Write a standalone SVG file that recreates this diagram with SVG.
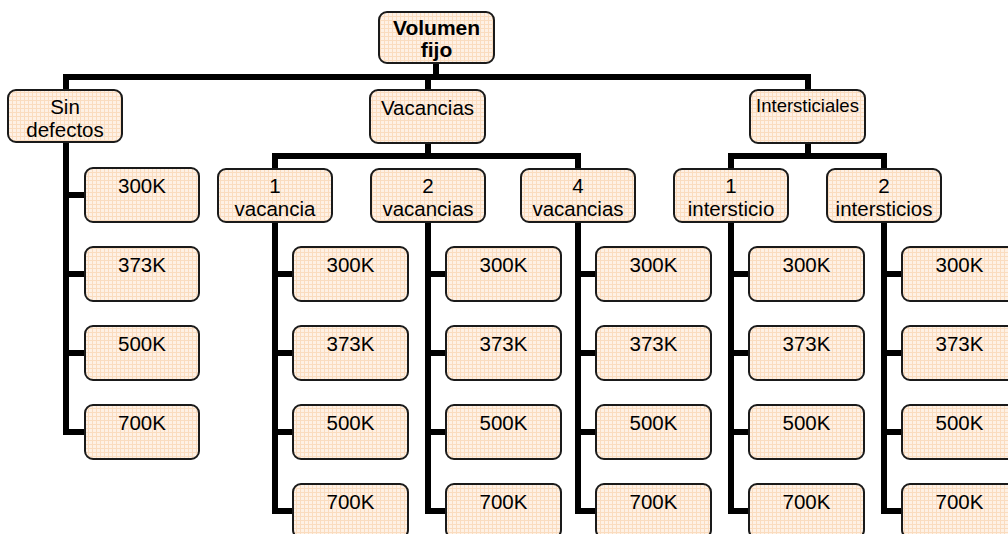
<svg xmlns="http://www.w3.org/2000/svg" width="1008" height="534" viewBox="0 0 1008 534">
<defs>
<pattern id="grid" width="4" height="4" patternUnits="userSpaceOnUse">
<rect width="4" height="4" fill="#FEF1E5"/>
<path d="M0,0.5 H4 M0.5,0 V4" stroke="#FADCBF" stroke-width="1"/>
</pattern>
</defs>
<style>
.box{fill:url(#grid);stroke:#1a1a1a;stroke-width:2}
.t{font-family:"Liberation Sans",Arial,sans-serif;font-size:20.5px;fill:#000;text-anchor:middle}
.b{font-weight:bold;font-size:21px}
.s{font-size:18.5px}
.c{fill:none;stroke:#000;stroke-width:6;stroke-linejoin:miter}
</style>
<g id="connectors">
<path class="c" d="M436,63 V77"/>
<path class="c" d="M66,90 V77 H808 V90"/>
<path class="c" d="M428,77 V90"/>
<path class="c" d="M428,143 V156"/>
<path class="c" d="M275,169 V156 H578 V169"/>
<path class="c" d="M808,143 V156"/>
<path class="c" d="M731,169 V156 H884 V169"/>
<path class="c" d="M66,142 V432 H85 M66,195 H85 M66,274 H85 M66,353 H85"/>
<path class="c" d="M275,222 V511 H293 M275,274 H293 M275,353 H293 M275,432 H293"/>
<path class="c" d="M428,222 V511 H446 M428,274 H446 M428,353 H446 M428,432 H446"/>
<path class="c" d="M578,222 V511 H596 M578,274 H596 M578,353 H596 M578,432 H596"/>
<path class="c" d="M731,222 V511 H749 M731,274 H749 M731,353 H749 M731,432 H749"/>
<path class="c" d="M884,222 V511 H902 M884,274 H902 M884,353 H902 M884,432 H902"/>
</g>
<g id="root"><rect class="box" x="379" y="12" width="115" height="51" rx="8"/><text class="t b" x="436.5" y="35">Volumen</text><text class="t b" x="436.5" y="57">fijo</text></g>
<g id="sin-defectos"><rect class="box" x="8" y="90" width="114" height="52" rx="8"/><text class="t" x="65" y="114">Sin</text><text class="t" x="65" y="137">defectos</text></g>
<g id="vacancias"><rect class="box" x="370" y="90" width="115" height="53" rx="8"/><text class="t" x="427.5" y="115">Vacancias</text></g>
<g id="intersticiales"><rect class="box" x="750" y="90" width="115" height="53" rx="8"/><text class="t s" x="807.5" y="112">Intersticiales</text></g>
<g id="v1"><rect class="box" x="218" y="169" width="114" height="53" rx="8"/><text class="t" x="275" y="193">1</text><text class="t" x="275" y="216">vacancia</text></g>
<g id="v2"><rect class="box" x="371" y="169" width="114" height="53" rx="8"/><text class="t" x="428" y="193">2</text><text class="t" x="428" y="216">vacancias</text></g>
<g id="v4"><rect class="box" x="521" y="169" width="114" height="53" rx="8"/><text class="t" x="578" y="193">4</text><text class="t" x="578" y="216">vacancias</text></g>
<g id="i1"><rect class="box" x="674" y="169" width="114" height="53" rx="8"/><text class="t" x="731" y="193">1</text><text class="t" x="731" y="216">intersticio</text></g>
<g id="i2"><rect class="box" x="827" y="169" width="114" height="53" rx="8"/><text class="t" x="884" y="193">2</text><text class="t" x="884" y="216">intersticios</text></g>
<g id="sd-300"><rect class="box" x="85" y="168" width="114" height="54" rx="8"/><text class="t" x="142" y="193">300K</text></g>
<g id="sd-373"><rect class="box" x="85" y="247" width="114" height="54" rx="8"/><text class="t" x="142" y="272">373K</text></g>
<g id="sd-500"><rect class="box" x="85" y="326" width="114" height="54" rx="8"/><text class="t" x="142" y="351">500K</text></g>
<g id="sd-700"><rect class="box" x="85" y="405" width="114" height="54" rx="8"/><text class="t" x="142" y="430">700K</text></g>
<g id="v1-300"><rect class="box" x="293" y="247" width="115" height="54" rx="8"/><text class="t" x="350.5" y="272">300K</text></g>
<g id="v1-373"><rect class="box" x="293" y="326" width="115" height="54" rx="8"/><text class="t" x="350.5" y="351">373K</text></g>
<g id="v1-500"><rect class="box" x="293" y="405" width="115" height="54" rx="8"/><text class="t" x="350.5" y="430">500K</text></g>
<g id="v1-700"><rect class="box" x="293" y="484" width="115" height="54" rx="8"/><text class="t" x="350.5" y="509">700K</text></g>
<g id="v2-300"><rect class="box" x="446" y="247" width="115" height="54" rx="8"/><text class="t" x="503.5" y="272">300K</text></g>
<g id="v2-373"><rect class="box" x="446" y="326" width="115" height="54" rx="8"/><text class="t" x="503.5" y="351">373K</text></g>
<g id="v2-500"><rect class="box" x="446" y="405" width="115" height="54" rx="8"/><text class="t" x="503.5" y="430">500K</text></g>
<g id="v2-700"><rect class="box" x="446" y="484" width="115" height="54" rx="8"/><text class="t" x="503.5" y="509">700K</text></g>
<g id="v4-300"><rect class="box" x="596" y="247" width="115" height="54" rx="8"/><text class="t" x="653.5" y="272">300K</text></g>
<g id="v4-373"><rect class="box" x="596" y="326" width="115" height="54" rx="8"/><text class="t" x="653.5" y="351">373K</text></g>
<g id="v4-500"><rect class="box" x="596" y="405" width="115" height="54" rx="8"/><text class="t" x="653.5" y="430">500K</text></g>
<g id="v4-700"><rect class="box" x="596" y="484" width="115" height="54" rx="8"/><text class="t" x="653.5" y="509">700K</text></g>
<g id="i1-300"><rect class="box" x="749" y="247" width="115" height="54" rx="8"/><text class="t" x="806.5" y="272">300K</text></g>
<g id="i1-373"><rect class="box" x="749" y="326" width="115" height="54" rx="8"/><text class="t" x="806.5" y="351">373K</text></g>
<g id="i1-500"><rect class="box" x="749" y="405" width="115" height="54" rx="8"/><text class="t" x="806.5" y="430">500K</text></g>
<g id="i1-700"><rect class="box" x="749" y="484" width="115" height="54" rx="8"/><text class="t" x="806.5" y="509">700K</text></g>
<g id="i2-300"><rect class="box" x="902" y="247" width="115" height="54" rx="8"/><text class="t" x="959.5" y="272">300K</text></g>
<g id="i2-373"><rect class="box" x="902" y="326" width="115" height="54" rx="8"/><text class="t" x="959.5" y="351">373K</text></g>
<g id="i2-500"><rect class="box" x="902" y="405" width="115" height="54" rx="8"/><text class="t" x="959.5" y="430">500K</text></g>
<g id="i2-700"><rect class="box" x="902" y="484" width="115" height="54" rx="8"/><text class="t" x="959.5" y="509">700K</text></g>
</svg>
